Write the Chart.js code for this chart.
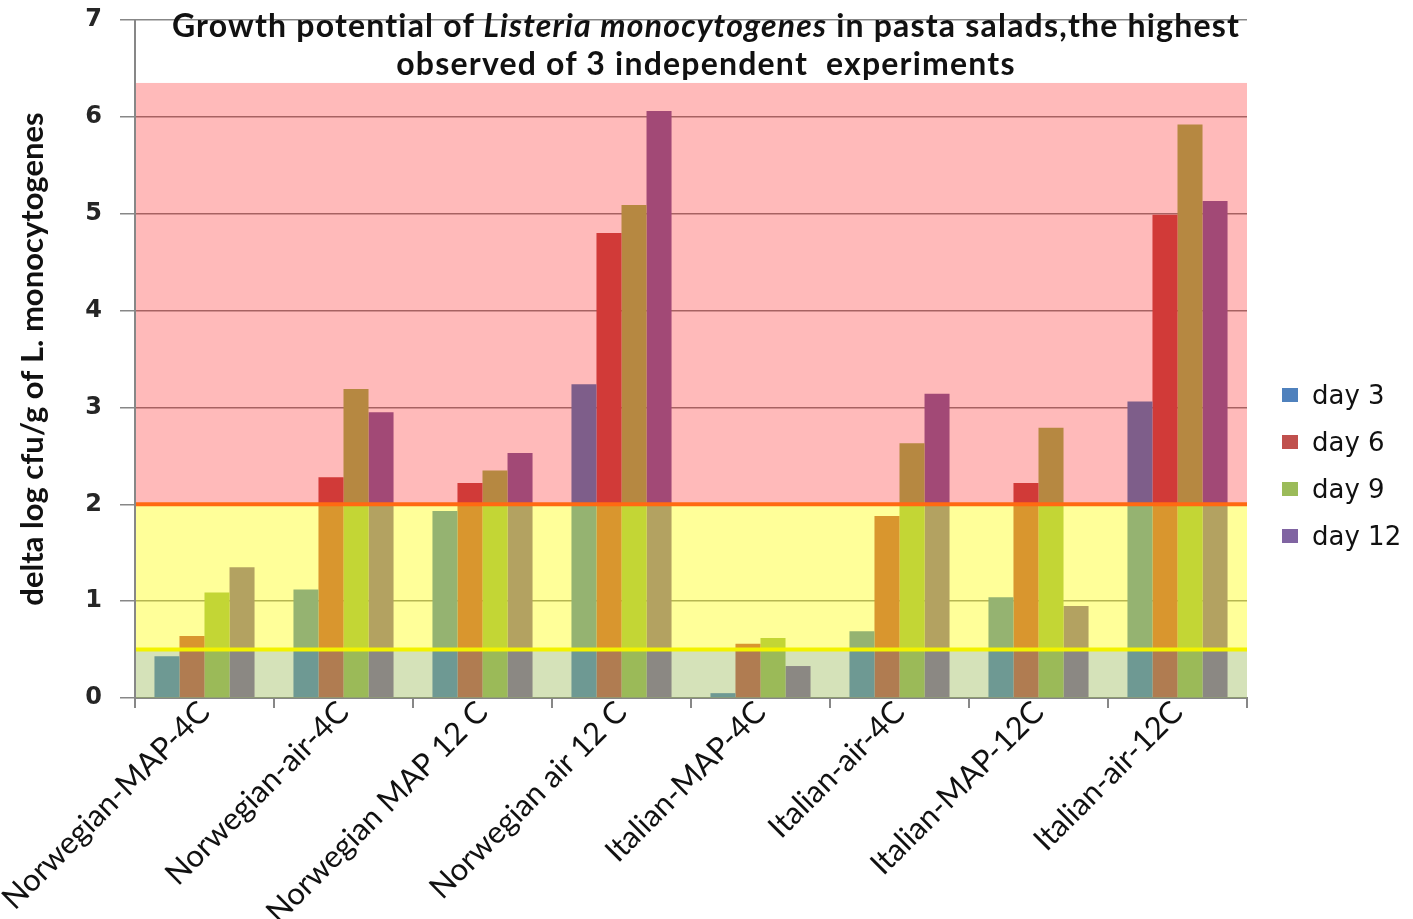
<!DOCTYPE html>
<html>
<head>
<meta charset="utf-8">
<title>Growth potential of Listeria monocytogenes</title>
<script src="https://cdn.jsdelivr.net/npm/chart.js@4.4.1/dist/chart.umd.min.js"></script>
<style>
    body { margin: 0; background: #fff; }
    #wrap { position: relative; width: 1413px; height: 919px; overflow: hidden; }
    #chartTitle {
        position: absolute; left: 136px; width: 1140px; top: 6px;
        text-align: center; font: bold 32px Lato, sans-serif; letter-spacing: 1.2px; line-height: 38px; color: #111;
    }
    #legend { position: absolute; left: 1282px; top: 371px; font: 26px "DejaVu Sans", sans-serif; color: #111; }
    .item { height: 47px; display: flex; align-items: center; }
    .box { width: 16px; height: 14px; margin-right: 14px; }
</style>
</head>
<body>
<div id="wrap">
    <canvas id="chart" width="1413" height="919"></canvas>
    <div id="chartTitle">Growth potential of <i>Listeria monocytogenes</i> in pasta salads,the highest<br>observed of 3 independent&nbsp; experiments</div>
    <div id="legend"></div>
</div>
<script>
// categories and measured values (delta log cfu/g)
const categories = ['Norwegian-MAP-4C', 'Norwegian-air-4C', 'Norwegian MAP 12 C', 'Norwegian air 12 C',
                    'Italian-MAP-4C', 'Italian-air-4C', 'Italian-MAP-12C', 'Italian-air-12C'];
const seriesNames = ['day 3', 'day 6', 'day 9', 'day 12'];
const day3 = [0.43, 1.12, 1.93, 3.24, 0.05, 0.69, 1.04, 3.06];
const day6 = [0.64, 2.28, 2.22, 4.80, 0.56, 1.88, 2.22, 4.99];
const day9 = [1.09, 3.19, 2.35, 5.09, 0.62, 2.63, 2.79, 5.92];
const day12 = [1.35, 2.95, 2.53, 6.06, 0.33, 3.14, 0.95, 5.13];
const yTicks = [0, 1, 2, 3, 4, 5, 6, 7];

// risk zones: edges of the shaded bands and the two limit lines
const bandEdges = [0, 0.5, 2, 6.35];
const limitLines = [0.5, 2];

const seriesColors = ['#4F81BD', '#C0504D', '#9BBB59', '#8064A2'];
const bandColors = ['rgba(155, 187, 89, 0.42)', 'rgba(255, 255, 0, 0.4)', 'rgba(255, 0, 0, 0.27)'];
const lineColors = ['#f2f200', '#ff6a12'];
const axisGrey = '#878787';

// bands are painted over the bars, semi-transparent, like the original
const zonePlugin = {
    id: 'zones',
    afterDatasetsDraw(chart) {
        const { ctx, chartArea } = chart;
        const y = chart.scales.y;
        ctx.save();
        for (let i = 0; i < bandColors.length; i++) {
            const top = y.getPixelForValue(bandEdges[i + 1]);
            const bottom = y.getPixelForValue(bandEdges[i]);
            ctx.fillStyle = bandColors[i];
            ctx.fillRect(chartArea.left + 1, top, chartArea.right - chartArea.left - 1, bottom - top);
        }
        ctx.lineWidth = 4;
        limitLines.forEach((v, i) => {
            const py = y.getPixelForValue(v);
            ctx.strokeStyle = lineColors[i];
            ctx.beginPath();
            ctx.moveTo(chartArea.left + 1, py);
            ctx.lineTo(chartArea.right, py);
            ctx.stroke();
        });
        ctx.restore();
    }
};

const values = [day3, day6, day9, day12];
const datasets = seriesNames.map((name, i) => ({
    label: name,
    data: values[i],
    backgroundColor: seriesColors[i],
    borderWidth: 0,
    categoryPercentage: 0.72,
    barPercentage: 1
}));

const ctx = document.getElementById('chart').getContext('2d');
new Chart(ctx, {
    type: 'bar',
    data: { labels: categories, datasets: datasets },
    plugins: [zonePlugin],
    options: {
        responsive: false,
        animation: false,
        layout: { padding: { left: 0, right: 166, top: 20, bottom: 0 } },
        plugins: {
            legend: { display: false },
            title: { display: false },
            tooltip: { enabled: false }
        },
        scales: {
            x: {
                grid: { drawOnChartArea: false, drawTicks: true, tickLength: 10, color: axisGrey, lineWidth: 2 },
                border: { color: axisGrey, width: 2 },
                ticks: {
                    minRotation: 45, maxRotation: 45, autoSkip: false,
                    padding: -14,
                    color: '#111',
                    font: { family: 'Lato', size: 31 }
                },
                afterFit(scale) { scale.height = 221; }
            },
            y: {
                min: 0,
                max: 7,
                afterBuildTicks(scale) { scale.ticks = yTicks.map(v => ({ value: v })); },
                grid: { color: axisGrey, lineWidth: 1.5, tickLength: 15 },
                border: { color: axisGrey, width: 2 },
                ticks: {
                    padding: 18,
                    color: '#262626',
                    font: { family: 'DejaVu Sans', size: 24, weight: 'bold' }
                },
                title: {
                    display: true,
                    text: 'delta log cfu/g of L. monocytogenes',
                    color: '#111',
                    font: { family: 'Lato', size: 31, weight: 'bold' },
                    padding: { top: 14, bottom: 0 }
                },
                afterFit(scale) {
                    scale.width = 135;
                    // the top label may stick out above the plot, as in the original
                    scale.paddingTop = 0;
                }
            }
        }
    }
});

// legend on the right
const legend = document.getElementById('legend');
seriesNames.forEach((name, i) => {
    const item = document.createElement('div');
    item.className = 'item';
    item.innerHTML = '<span class="box" style="background:' + seriesColors[i] + '"></span>' + name;
    legend.appendChild(item);
});
</script>
</body>
</html>
